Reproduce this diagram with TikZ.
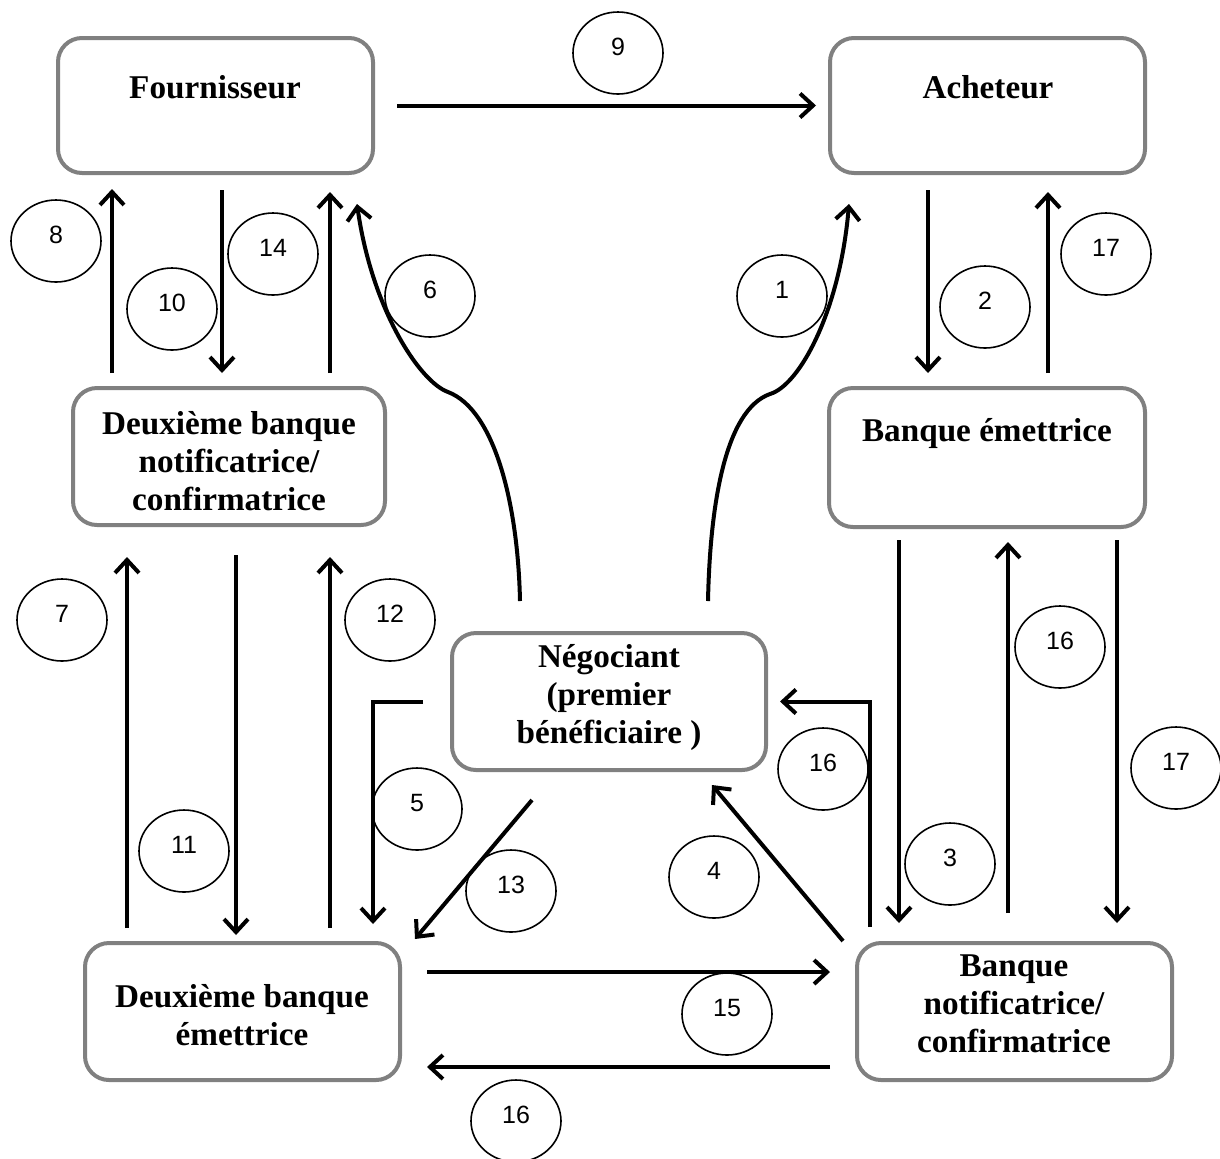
\documentclass[tikz,border=0pt]{standalone}
\usepackage{fontspec}
\setmainfont{Liberation Serif}
\newfontfamily\numfont{Liberation Sans}
\usetikzlibrary{arrows.meta,calc,shapes.geometric}
\definecolor{boxgray}{RGB}{128,128,128}
\newcommand\tagnum[1]{\raisebox{6pt}{#1}}

\begin{document}
\begin{tikzpicture}[x=0.5pt,y=-0.5pt,
  party/.style={draw=boxgray, line width=2pt, rounded corners=12pt, inner sep=0pt},
  partytext/.style={align=center, inner sep=0pt,
    font=\fontsize{16.6}{19}\selectfont\bfseries},
  tag/.style={ellipse, draw, line width=0.8pt, minimum width=45pt,
    minimum height=41pt, inner sep=0pt,
    font=\numfont\fontsize{12.5}{13}\selectfont},
  flow/.style={line width=2pt, -{Straight Barb[length=6.5pt,width=12pt]}},
]
\useasboundingbox (0,0) rectangle (1220,1158);

% parties
\node[party, minimum width=157.5pt, minimum height=67.5pt] (four) at (215.5,105.5) {};
\node[party, minimum width=157.5pt, minimum height=67.5pt] (ache) at (987.5,105.5) {};
\node[party, minimum width=156pt, minimum height=68.5pt] (dbn) at (229,456.5) {};
\node[party, minimum width=158pt, minimum height=69.5pt] (be) at (987,457.5) {};
\node[party, minimum width=157pt, minimum height=68.5pt] (neg) at (609,701.5) {};
\node[party, minimum width=157.5pt, minimum height=68.5pt] (dbe) at (242.5,1011.5) {};
\node[party, minimum width=157.5pt, minimum height=68.5pt] (bn) at (1014.5,1011.5) {};

\node[partytext] (four-t) at (215,87) {Fournisseur};
\node[partytext] (ache-t) at (988,87) {Acheteur};
\node[partytext] (dbn-t) at (229,461) {Deuxième banque\\notificatrice/\\confirmatrice};
\node[partytext] (be-t) at (987,433) {Banque émettrice};
\node[partytext] (neg-t) at (609,697) {Négociant\\(premier\\bénéficiaire )};
\node[partytext] (dbe-t) at (242,1015) {Deuxième banque\\émettrice};
\node[partytext] (bn-t) at (1014,1004) {Banque\\notificatrice/\\confirmatrice};

% top row
\draw[flow, shorten <=11pt, shorten >=6pt] (four.east) -- (ache.west);

% Fournisseur <-> second advising bank
\draw[flow, shorten <=6.5pt, shorten >=7pt] (dbn.north -| 112,0) -- (four.south -| 112,0);
\draw[flow, shorten <=7.5pt, shorten >=6.5pt] (four.south -| 222,0) -- (dbn.north -| 222,0);
\draw[flow, shorten <=6.5pt, shorten >=8.5pt] (dbn.north -| 330,0) -- (four.south -| 330,0);

% Acheteur <-> issuing bank
\draw[flow, shorten <=7.5pt, shorten >=6.5pt] (ache.south -| 928,0) -- (be.north -| 928,0);
\draw[flow, shorten <=6.5pt, shorten >=8.5pt] (be.north -| 1048,0) -- (ache.south -| 1048,0);

% second advising bank <-> second issuing bank
\draw[flow, shorten <=6.5pt, shorten >=15pt] (dbe.north -| 127,0) -- (dbn.south -| 127,0);
\draw[flow, shorten <=14pt, shorten >=3pt] (dbn.south -| 236,0) -- (dbe.north -| 236,0);
\draw[flow, shorten <=6.5pt, shorten >=15pt] (dbe.north -| 330,0) -- (dbn.south -| 330,0);

% issuing bank <-> advising bank
\draw[flow, shorten <=5.5pt, shorten >=9pt] (be.south -| 899,0) -- (bn.north -| 899,0);
\draw[flow, shorten <=14pt, shorten >=6.5pt] (bn.north -| 1008,0) -- (be.south -| 1008,0);
\draw[flow, shorten <=5.5pt, shorten >=9pt] (be.south -| 1117,0) -- (bn.north -| 1117,0);

% trader links
\draw[flow] ($(neg.north)+(-89,-30)$)
  .. controls (518,505) and (495,410) .. (448,392)
  .. controls (420,382) and (372,310) .. ($(four.south)+(141.5,29)$);
\draw[flow] ($(neg.north)+(99,-30)$)
  .. controls (710,505) and (725,410) .. (770,394)
  .. controls (800,385) and (840,310) .. ($(ache.south)+(-138.5,29)$);
\draw[flow] ($(neg.west)+(-27,0)$) -| ($(dbe.north east)+(-29,-17)$);
\draw[flow] ($(neg.south)+(-77,28)$) -- ($(dbe.north east)+(13,-2)$);
\draw[flow] ($(bn.north west)+(-12,0)$) -- ($(neg.south)+(103,13)$);
\draw[flow] ($(bn.north west)+(15,-14)$) |- ($(neg.east)+(12,0)$);

% bottom row
\draw[flow, shorten <=12.5pt, shorten >=12.5pt] ($(dbe.east)+(0,-39.5)$) -- ($(bn.west)+(0,-39.5)$);
\draw[flow, shorten <=12.5pt, shorten >=12.5pt] ($(bn.west)+(0,55.5)$) -- ($(dbe.east)+(0,55.5)$);

% step numbers
\node[tag] (n9) at (618,53) {\tagnum{9}};
\node[tag] (n8) at (56,241) {\tagnum{8}};
\node[tag] (n10) at (172,309) {\tagnum{10}};
\node[tag] (n14) at (273,254) {\tagnum{14}};
\node[tag] (n6) at (430,296) {\tagnum{6}};
\node[tag] (n1) at (782,296) {\tagnum{1}};
\node[tag] (n2) at (985,307) {\tagnum{2}};
\node[tag] (n17a) at (1106,254) {\tagnum{17}};
\node[tag] (n7) at (62,620) {\tagnum{7}};
\node[tag] (n12) at (390,620) {\tagnum{12}};
\node[tag] (n5) at (417,809) {\tagnum{5}};
\node[tag] (n11) at (184,851) {\tagnum{11}};
\node[tag] (n13) at (511,891) {\tagnum{13}};
\node[tag] (n16a) at (823,769) {\tagnum{16}};
\node[tag] (n4) at (714,877) {\tagnum{4}};
\node[tag] (n3) at (950,864) {\tagnum{3}};
\node[tag] (n16b) at (1060,647) {\tagnum{16}};
\node[tag] (n17b) at (1176,768) {\tagnum{17}};
\node[tag] (n15) at (727,1014) {\tagnum{15}};
\node[tag] (n16c) at (516,1121) {\tagnum{16}};
\end{tikzpicture}
\end{document}
